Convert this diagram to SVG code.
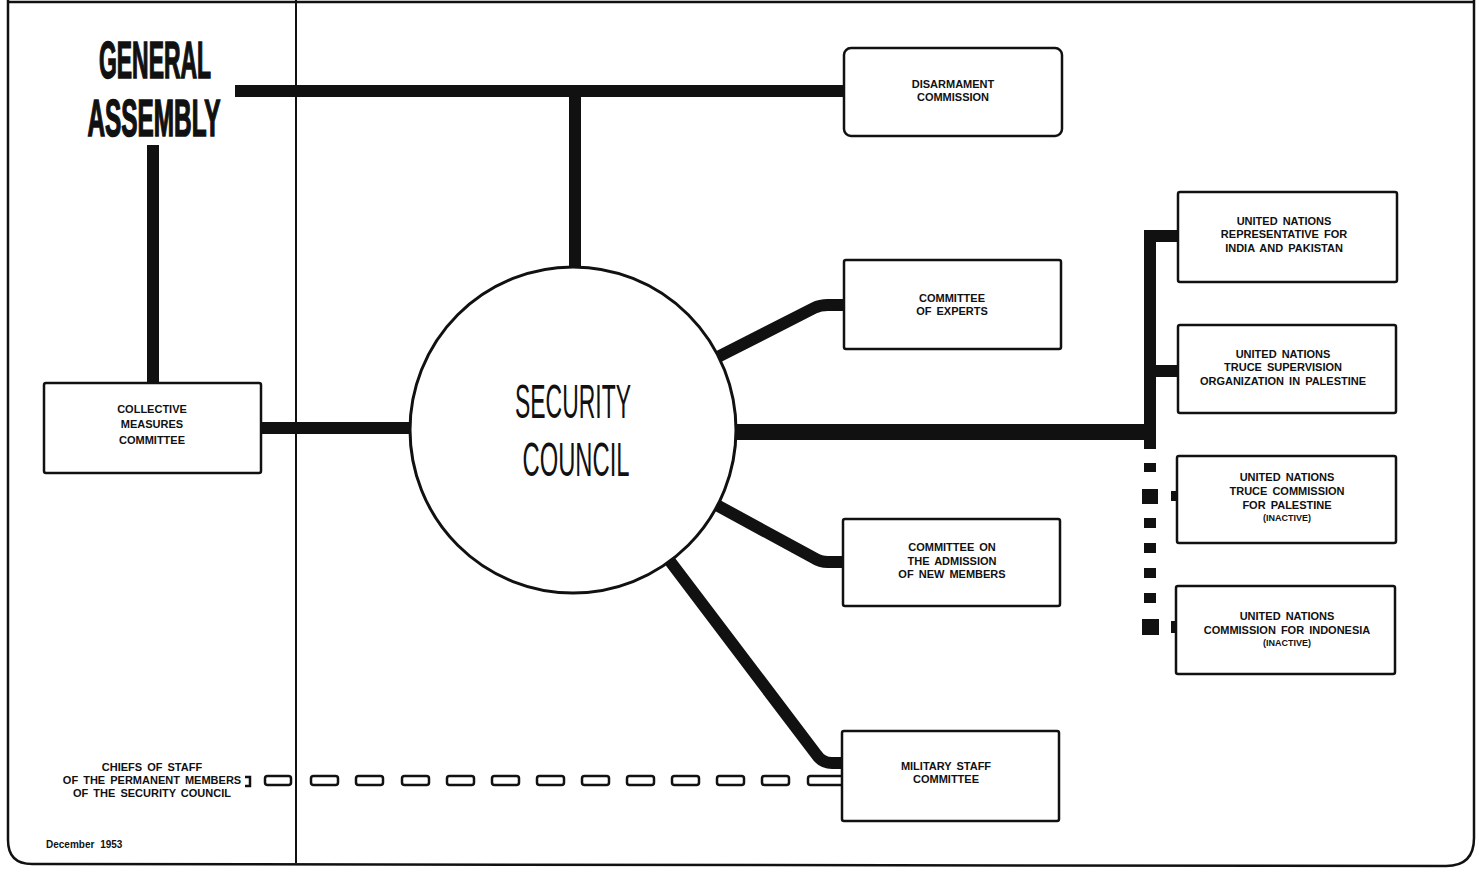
<svg xmlns="http://www.w3.org/2000/svg" width="1479" height="873" viewBox="0 0 1479 873">
<style>
.box{fill:#fff;stroke:#111;stroke-width:2.5}
.lbl{font-family:"Liberation Sans",Arial,sans-serif;font-weight:bold;font-size:11px;fill:#111;text-anchor:middle;word-spacing:2px}
.sm{font-size:9px}
.thick{fill:none;stroke:#111;stroke-width:12;stroke-linejoin:round}
.frame{fill:none;stroke:#111;stroke-width:2.5}
.dash{fill:none;stroke:#111;stroke-width:2.5}
.big{font-family:"Liberation Sans",Arial,sans-serif;fill:#111;text-anchor:middle}
.heavy{stroke:#111;stroke-width:1.6}
</style>
<rect x="0" y="0" width="1479" height="873" fill="#fff"/>
<g id="frame">
<path class="frame" d="M8 0 L8 840 Q8 864 32 864 L1446 866 Q1474 866 1474 838 L1474 0"/>
<line class="frame" x1="8" y1="2" x2="1474" y2="2"/>
<line x1="296" y1="0" x2="296" y2="863" stroke="#111" stroke-width="2"/>
</g>
<g id="connectors">
<line class="thick" x1="235" y1="91" x2="846" y2="91"/>
<line class="thick" x1="575" y1="91" x2="575" y2="300"/>
<line class="thick" x1="153" y1="145" x2="153" y2="384"/>
<line class="thick" x1="260" y1="428" x2="450" y2="428"/>
<line x1="700" y1="432" x2="1156" y2="432" stroke="#111" stroke-width="16"/>
<line class="thick" x1="1150" y1="230" x2="1150" y2="449"/>
<line class="thick" x1="1150" y1="236" x2="1179" y2="236"/>
<line class="thick" x1="1150" y1="371" x2="1179" y2="371"/>
<path class="thick" d="M700 366 L814 308 Q820 305 828 305 L845 305"/>
<path class="thick" d="M700 496 L814 558 Q820 562 828 562 L844 562"/>
<path class="thick" d="M660 548 L816 754 Q822 763 832 763 L843 763"/>
<g fill="#111">
<rect x="1144" y="463" width="12" height="9"/>
<rect x="1142" y="489" width="16" height="15"/>
<rect x="1144" y="518" width="12" height="10"/>
<rect x="1144" y="543" width="12" height="10"/>
<rect x="1144" y="568" width="12" height="10"/>
<rect x="1144" y="593" width="12" height="10"/>
<rect x="1142" y="619" width="17" height="16"/>
<rect x="1171" y="491" width="7" height="10"/>
<rect x="1171" y="621" width="7" height="12"/>
</g>
<g id="chiefs-dashes">
<path class="dash" d="M245 777 L250 777 L250 786 L245 786"/>
<rect class="dash" x="265" y="776" width="26" height="9" rx="2.5"/>
<rect class="dash" x="311" y="776" width="27" height="9" rx="2.5"/>
<rect class="dash" x="356" y="776" width="27" height="9" rx="2.5"/>
<rect class="dash" x="402" y="776" width="27" height="9" rx="2.5"/>
<rect class="dash" x="447" y="776" width="27" height="9" rx="2.5"/>
<rect class="dash" x="492" y="776" width="27" height="9" rx="2.5"/>
<rect class="dash" x="537" y="776" width="27" height="9" rx="2.5"/>
<rect class="dash" x="582" y="776" width="27" height="9" rx="2.5"/>
<rect class="dash" x="627" y="776" width="27" height="9" rx="2.5"/>
<rect class="dash" x="672" y="776" width="27" height="9" rx="2.5"/>
<rect class="dash" x="717" y="776" width="27" height="9" rx="2.5"/>
<rect class="dash" x="762" y="776" width="27" height="9" rx="2.5"/>
<rect class="dash" x="808" y="776" width="36" height="9" rx="2.5"/>
</g>
</g>
<g id="general-assembly">
<text class="big heavy" x="155" y="78" font-size="51" font-weight="bold" textLength="112" lengthAdjust="spacingAndGlyphs">GENERAL</text>
<text class="big heavy" x="154" y="136" font-size="51" font-weight="bold" textLength="133" lengthAdjust="spacingAndGlyphs">ASSEMBLY</text>
</g>
<g id="security-council">
<circle cx="573" cy="430" r="163" fill="#fff" stroke="#111" stroke-width="3"/>
<text class="big" x="573" y="418" font-size="48" textLength="116" lengthAdjust="spacingAndGlyphs">SECURITY</text>
<text class="big" x="576" y="476" font-size="48" textLength="107" lengthAdjust="spacingAndGlyphs">COUNCIL</text>
</g>
<g id="collective-measures">
<rect class="box" x="44" y="383" width="217" height="90" rx="2"/>
<text class="lbl" x="152" y="413">COLLECTIVE</text>
<text class="lbl" x="152" y="428">MEASURES</text>
<text class="lbl" x="152" y="444">COMMITTEE</text>
</g>
<g id="disarmament">
<rect class="box" x="844" y="48" width="218" height="88" rx="7"/>
<text class="lbl" x="953" y="88">DISARMAMENT</text>
<text class="lbl" x="953" y="101">COMMISSION</text>
</g>
<g id="experts">
<rect class="box" x="844" y="260" width="217" height="89" rx="2"/>
<text class="lbl" x="952" y="302">COMMITTEE</text>
<text class="lbl" x="952" y="315">OF  EXPERTS</text>
</g>
<g id="admission">
<rect class="box" x="843" y="519" width="217" height="87" rx="2"/>
<text class="lbl" x="952" y="551">COMMITTEE  ON</text>
<text class="lbl" x="952" y="565">THE  ADMISSION</text>
<text class="lbl" x="952" y="578">OF  NEW  MEMBERS</text>
</g>
<g id="military-staff">
<rect class="box" x="842" y="731" width="217" height="90" rx="2"/>
<text class="lbl" x="946" y="770">MILITARY  STAFF</text>
<text class="lbl" x="946" y="783">COMMITTEE</text>
</g>
<g id="india-pakistan">
<rect class="box" x="1178" y="192" width="219" height="90" rx="2"/>
<text class="lbl" x="1284" y="225">UNITED  NATIONS</text>
<text class="lbl" x="1284" y="238">REPRESENTATIVE  FOR</text>
<text class="lbl" x="1284" y="252">INDIA  AND  PAKISTAN</text>
</g>
<g id="truce-supervision">
<rect class="box" x="1178" y="325" width="218" height="88" rx="2"/>
<text class="lbl" x="1283" y="358">UNITED  NATIONS</text>
<text class="lbl" x="1283" y="371">TRUCE  SUPERVISION</text>
<text class="lbl" x="1283" y="385">ORGANIZATION  IN  PALESTINE</text>
</g>
<g id="truce-commission">
<rect class="box" x="1177" y="456" width="219" height="87" rx="2"/>
<text class="lbl" x="1287" y="481">UNITED  NATIONS</text>
<text class="lbl" x="1287" y="495">TRUCE  COMMISSION</text>
<text class="lbl" x="1287" y="509">FOR  PALESTINE</text>
<text class="lbl sm" x="1287" y="521">(INACTIVE)</text>
</g>
<g id="indonesia">
<rect class="box" x="1176" y="586" width="219" height="88" rx="2"/>
<text class="lbl" x="1287" y="620">UNITED  NATIONS</text>
<text class="lbl" x="1287" y="634">COMMISSION  FOR  INDONESIA</text>
<text class="lbl sm" x="1287" y="646">(INACTIVE)</text>
</g>
<g id="chiefs-of-staff">
<text class="lbl" x="152" y="771">CHIEFS  OF  STAFF</text>
<text class="lbl" x="152" y="784">OF  THE  PERMANENT  MEMBERS</text>
<text class="lbl" x="152" y="797">OF  THE  SECURITY  COUNCIL</text>
</g>
<g id="date">
<text x="46" y="848" font-family="Liberation Sans, Arial, sans-serif" font-weight="bold" font-size="10" fill="#111" word-spacing="3">December 1953</text>
</g>
</svg>
